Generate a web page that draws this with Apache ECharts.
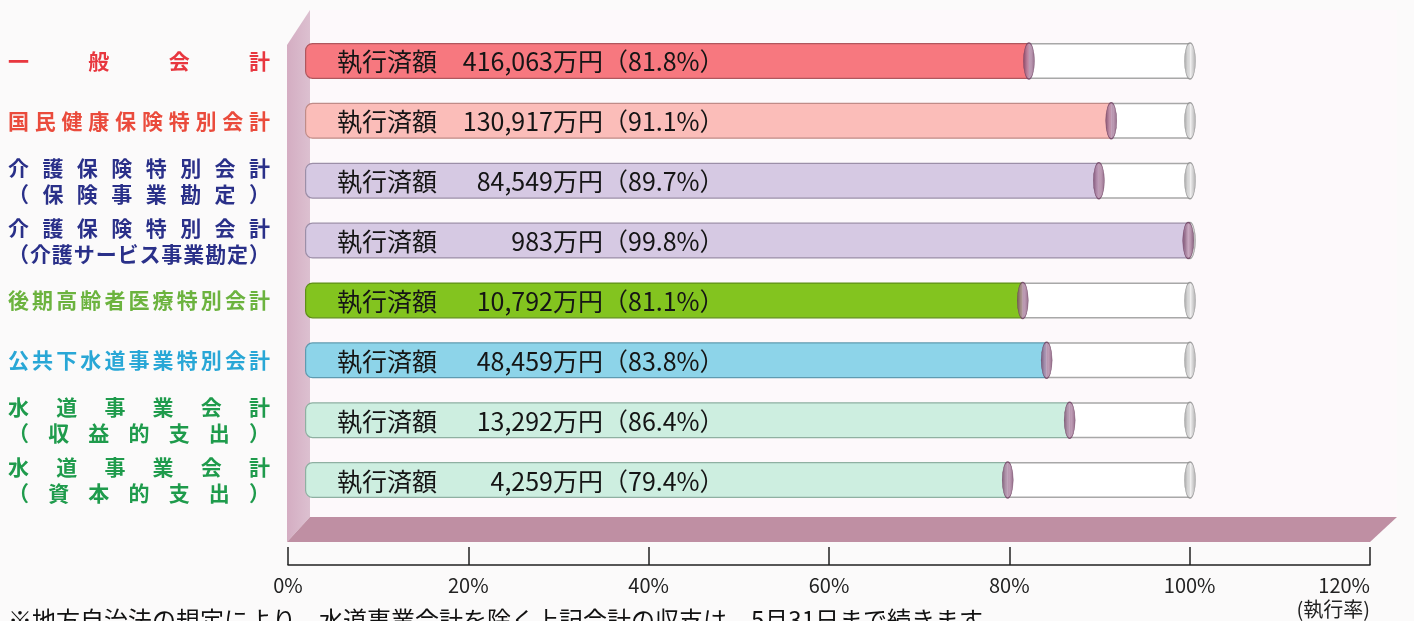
<!DOCTYPE html>
<html><head><meta charset="utf-8">
<script src="https://cdn.jsdelivr.net/npm/echarts@6/dist/echarts.min.js"></script>
<style>html,body{margin:0;padding:0;background:#fbfafa;}#c{width:1414px;height:621px;}</style>
</head><body><div id="c"></div>
<script>
const categories = ['一般会計','国民健康保険特別会計','介護保険特別会計\n（保険事業勘定）','介護保険特別会計\n（介護サービス事業勘定）','後期高齢者医療特別会計','公共下水道事業特別会計','水道事業会計\n（収益的支出）','水道事業会計\n（資本的支出）'];
const rates = [81.8, 91.1, 89.7, 99.8, 81.1, 83.8, 86.4, 79.4];
const amounts = [416063, 130917, 84549, 983, 10792, 48459, 13292, 4259];
const axisTicks = [0, 20, 40, 60, 80, 100, 120];
const footnote = '※地方自治法の規定により、水道事業会計を除く上記会計の収支は、5月31日まで続きます。';

const barColors = ['#f7787f','#fbbdb9','#d6c9e3','#d6c9e3','#83c41f','#8dd4e9','#cdeee0','#cdeee0'];
const barBorders = ['#b0575e','#c08c88','#9c8fa8','#9c8fa8','#5f8f18','#5f9bb0','#8fb0a2','#8fb0a2'];
const labelColors = ['#e8373f','#ea4b3c','#2a3089','#2a3089','#6cb33f','#29a7d6','#1f9b4c','#1f9b4c'];

const FONT = 'Noto Sans CJK JP';
const FS = 21, LW = 262, LWEIGHT = 'bold';
const rich = {};
categories.forEach((c, i) => {
  c.split('\n').forEach((line, j) => {
    const n = Array.from(line).length;
    const pitch = n > 1 ? (LW - FS) / (n - 1) : LW;
    rich['k' + i + '_' + j] = {width: pitch, align: 'left', color: labelColors[i], fontSize: FS, fontWeight: LWEIGHT, lineHeight: 26, fontFamily: FONT};
  });
  rich['e' + i] = {align: 'left', color: labelColors[i], fontSize: FS, fontWeight: LWEIGHT, lineHeight: 26, fontFamily: FONT};
});
function catLabel(value) {
  const i = categories.indexOf(value);
  return value.split('\n').map((line, j) => {
    const chars = Array.from(line);
    return chars.map((ch, k) => k < chars.length - 1 ? '{k' + i + '_' + j + '|' + ch + '}' : '{e' + i + '|' + ch + '}').join('');
  }).join('\n');
}

// measure amount text so it can be right-aligned in a fixed slot
const BFS = 25;
const mctx = document.createElement('canvas').getContext('2d');
mctx.font = BFS + 'px "' + FONT + '"';
const AMT_SLOT = 166;
const amtRich = {
  a: {fontSize: BFS, color: '#151515', fontFamily: FONT, width: 100},
  c: {fontSize: BFS, color: '#151515', fontFamily: FONT}
};
const amtText = amounts.map(a => a.toLocaleString('en-US') + '万円');
amtText.forEach((t, i) => {
  const w = mctx.measureText(t).width;
  amtRich['p' + i] = {width: Math.max(0, AMT_SLOT - w), fontSize: BFS, fontFamily: FONT};
  amtRich['b' + i] = {fontSize: BFS, color: '#151515', fontFamily: FONT};
});

const chart = echarts.init(document.getElementById('c'), null, {renderer: 'canvas'});
const capExec = new echarts.graphic.LinearGradient(0, 0, 1, 0, [{offset: 0, color: '#6e3b60'}, {offset: 0.5, color: '#c9a1bf'}, {offset: 1, color: '#7a4a6d'}]);
const capFull = new echarts.graphic.LinearGradient(0, 0, 1, 0, [{offset: 0, color: '#8f8f8f'}, {offset: 0.5, color: '#f4f4f4'}, {offset: 1, color: '#9a9a9a'}]);

const option = {
  animation: false,
  backgroundColor: '#fbfafa',
  textStyle: {fontFamily: FONT},
  graphic: [
    {type: 'rect', z: -10, shape: {x: 310, y: 10, width: 1087, height: 507}, style: {fill: '#fdf9fb'}},
    {type: 'polygon', z: -5, shape: {points: [[287, 45], [310, 10], [310, 517], [287, 542]]}, style: {fill: new echarts.graphic.LinearGradient(0, 0, 1, 0, [{offset: 0, color: '#d4adc2'}, {offset: 1, color: '#dcc0d0'}])}},
    {type: 'polygon', z: -5, shape: {points: [[310, 517], [1397, 517], [1370, 542], [287, 542]]}, style: {fill: '#bf8fa3'}},
    {type: 'text', z: 10, left: 8, top: 608, style: {text: footnote, fontSize: 24, fill: '#111', fontFamily: FONT}}
  ],
  grid: [
    {left: 305, right: 224, top: 31, bottom: 111},
    {left: 288, right: 44, top: 545, bottom: 56}
  ],
  xAxis: [
    {gridIndex: 0, type: 'value', min: 0, max: 100, show: false},
    {gridIndex: 1, type: 'value', min: axisTicks[0], max: axisTicks[axisTicks.length - 1], interval: axisTicks[1] - axisTicks[0],
      axisLine: {show: true, lineStyle: {color: '#222', width: 1.5}},
      axisTick: {show: true, inside: true, length: 18, lineStyle: {color: '#222', width: 1.5}},
      splitLine: {show: false},
      axisLabel: {margin: 8, fontSize: 20, color: '#222', lineHeight: 24, fontFamily: FONT, alignMaxLabel: 'right',
        formatter: v => v === axisTicks[axisTicks.length - 1] ? v + '%\n(執行率)' : v + '%'}}
  ],
  yAxis: [
    {gridIndex: 0, type: 'category', inverse: true, data: categories,
      axisLine: {show: false}, axisTick: {show: false},
      axisLabel: {margin: 35, formatter: catLabel, rich: rich}},
    {gridIndex: 1, type: 'value', show: false, min: 0, max: 1}
  ],
  series: [
    {type: 'bar', stack: 's', xAxisIndex: 0, yAxisIndex: 0, barWidth: 36,
      data: rates.map((r, i) => ({value: r, itemStyle: {color: barColors[i], borderColor: barBorders[i], borderWidth: 1.2, borderRadius: [7, 0, 0, 7]}})),
      label: {show: true, position: 'insideLeft', distance: 0, offset: [32, 1],
        formatter: p => '{a|執行済額}{p' + p.dataIndex + '|}{b' + p.dataIndex + '|' + amtText[p.dataIndex] + '}{c|（' + rates[p.dataIndex].toFixed(1) + '%）}',
        rich: amtRich}},
    {type: 'bar', stack: 's', xAxisIndex: 0, yAxisIndex: 0, barWidth: 36,
      data: rates.map(r => +(100 - r).toFixed(1)),
      itemStyle: {color: '#ffffff', borderColor: '#a8a8a8', borderWidth: 1.5}},
    {type: 'scatter', xAxisIndex: 0, yAxisIndex: 0, symbol: 'circle', symbolSize: [11, 36], z: 5,
      data: rates.map((r, i) => [100, i]),
      itemStyle: {color: capFull, borderColor: '#8a8a8a', borderWidth: 0.8}},
    {type: 'scatter', xAxisIndex: 0, yAxisIndex: 0, symbol: 'circle', symbolSize: [11, 36], z: 6,
      data: rates.map((r, i) => [r, i]),
      itemStyle: {color: capExec, borderColor: '#6a3d5e', borderWidth: 0.8}},
    {type: 'scatter', xAxisIndex: 1, yAxisIndex: 1, data: []}
  ]
};
chart.setOption(option);
</script></body></html>
